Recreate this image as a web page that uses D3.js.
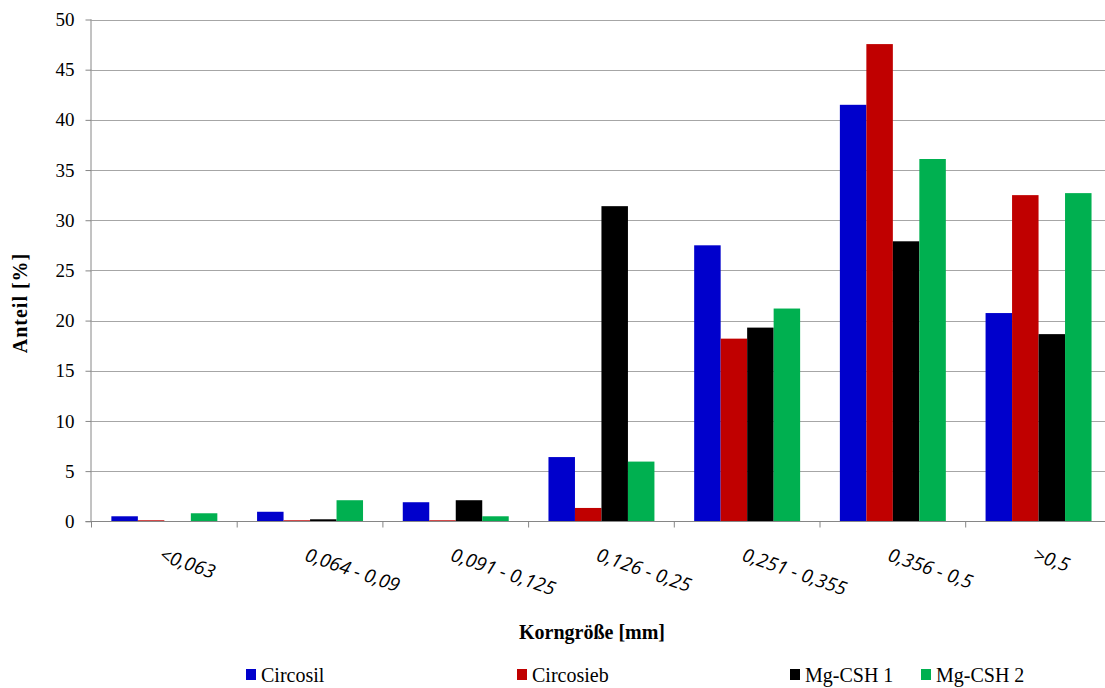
<!DOCTYPE html>
<html>
<head>
<meta charset="utf-8">
<script src="https://cdn.jsdelivr.net/npm/d3@7"></script>
<style>
  html, body { margin: 0; padding: 0; background: #fff; }
  svg { display: block; }
</style>
</head>
<body>
<svg id="chart" width="1105" height="688"></svg>
<script>
// Grain size classes (mm)
const categories = ["<0,063", "0,064 - 0,09", "0,091 - 0,125", "0,126 - 0,25", "0,251 - 0,355", "0,356 - 0,5", ">0,5"];
const seriesNames = ["Circosil", "Circosieb", "Mg-CSH 1", "Mg-CSH 2"];
const circosil = [0.5, 0.95, 1.9, 6.4, 27.5, 41.5, 20.75];
const circosieb = [0.1, 0.1, 0.1, 1.33, 18.2, 47.55, 32.5];
const mgCsh1 = [0.0, 0.2, 2.1, 31.4, 19.3, 27.9, 18.65];
const mgCsh2 = [0.8, 2.1, 0.5, 5.95, 21.2, 36.1, 32.7];
const seriesColors = ["#0000CC", "#C00000", "#000000", "#00B050"];
const yTicks = [0, 5, 10, 15, 20, 25, 30, 35, 40, 45, 50];

const values = [circosil, circosieb, mgCsh1, mgCsh2];

const svg = d3.select("#chart");
const serif = "'Liberation Serif', 'DejaVu Serif', serif";
const sans = "'Open Sans', 'Liberation Sans', sans-serif";

const plotLeft = 91.5, plotTop = 19.5, plotBottom = 521.3;
const catStep = 145.7;
const plotRight = plotLeft + catStep * categories.length;

const x = d3.scaleBand().domain(categories).range([plotLeft, plotRight]).paddingInner(0).paddingOuter(0);
const xs = d3.scaleBand().domain(seriesNames).range([0, x.bandwidth()]).paddingInner(0).paddingOuter(0.75);
const y = d3.scaleLinear().domain([0, 50]).range([plotBottom, plotTop]);

// horizontal gridlines
svg.append("g")
  .selectAll("line")
  .data(yTicks.filter(d => d > 0))
  .join("line")
  .attr("x1", plotLeft).attr("x2", plotRight)
  .attr("y1", d => Math.round(y(d)) + 0.5).attr("y2", d => Math.round(y(d)) + 0.5)
  .attr("stroke", "#a6a6a6").attr("stroke-width", 1);

// bars
const groups = svg.append("g")
  .selectAll("g")
  .data(seriesNames)
  .join("g")
  .attr("fill", (d, i) => seriesColors[i]);

groups.selectAll("rect")
  .data((s, si) => categories.map((c, ci) => ({ s, c, v: values[si][ci] })))
  .join("rect")
  .attr("x", d => x(d.c) + xs(d.s))
  .attr("width", xs.bandwidth())
  .attr("y", d => y(d.v))
  .attr("height", d => y(0) - y(d.v));

// y axis
const yAxis = svg.append("g")
  .attr("transform", `translate(${plotLeft},0)`)
  .call(d3.axisLeft(y).tickValues(yTicks).tickSize(6).tickPadding(11).tickFormat(d3.format("d")));
yAxis.attr("font-family", serif).attr("font-size", 19);
yAxis.select(".domain").attr("stroke", "#868686").attr("d", `M-0.5,${plotTop}V${plotBottom}`);
yAxis.selectAll(".tick line").attr("stroke", "#868686").attr("x2", -6);
yAxis.selectAll(".tick text")
  .style("font-family", serif).style("font-size", "19px").attr("fill", "#000");

// x axis baseline and category ticks
const xAxis = svg.append("g")
  .attr("transform", `translate(0,${Math.round(plotBottom) + 0.5})`)
  .call(d3.axisBottom(x).tickSize(0).tickFormat(""));
xAxis.select(".domain").attr("stroke", "#868686").attr("d", `M${plotLeft - 6},0H${plotRight}`);
xAxis.selectAll(".tick").remove();
xAxis.selectAll("line.cat")
  .data(categories.concat(["end"]))
  .join("line")
  .attr("class", "cat")
  .attr("x1", (d, i) => plotLeft + i * x.step())
  .attr("x2", (d, i) => plotLeft + i * x.step())
  .attr("y1", 0).attr("y2", 6)
  .attr("stroke", "#868686");

// category labels, rotated
svg.append("g")
  .selectAll("text")
  .data(categories)
  .join("text")
  .attr("transform", d => `translate(${x(d) + x.bandwidth() / 2 - 1},${545}) rotate(19)`)
  .attr("font-family", sans).attr("font-style", "italic").attr("font-size", 19)
  .attr("dominant-baseline", "hanging")
  .attr("fill", "#000")
  .text(d => d);

// axis titles
svg.append("text")
  .attr("x", 592).attr("y", 639)
  .attr("text-anchor", "middle")
  .attr("font-family", serif).attr("font-weight", "bold").attr("font-size", 20)
  .text("Korngröße [mm]");

svg.append("text")
  .attr("transform", "translate(27,303) rotate(-90)")
  .attr("text-anchor", "middle")
  .attr("font-family", serif).attr("font-weight", "bold").attr("font-size", 20)
  .attr("letter-spacing", 1)
  .text("Anteil [%]");

// legend
const legendX = [246, 517, 790, 921];
const legend = svg.append("g")
  .selectAll("g")
  .data(seriesNames)
  .join("g")
  .attr("transform", (d, i) => `translate(${legendX[i]},675)`);
legend.append("rect")
  .attr("x", 0).attr("y", -6).attr("width", 10).attr("height", 11)
  .attr("fill", (d, i) => seriesColors[i]);
legend.append("text")
  .attr("x", 15).attr("y", 7)
  .attr("font-family", serif).attr("font-size", 20)
  .text(d => d);
</script>
</body>
</html>
